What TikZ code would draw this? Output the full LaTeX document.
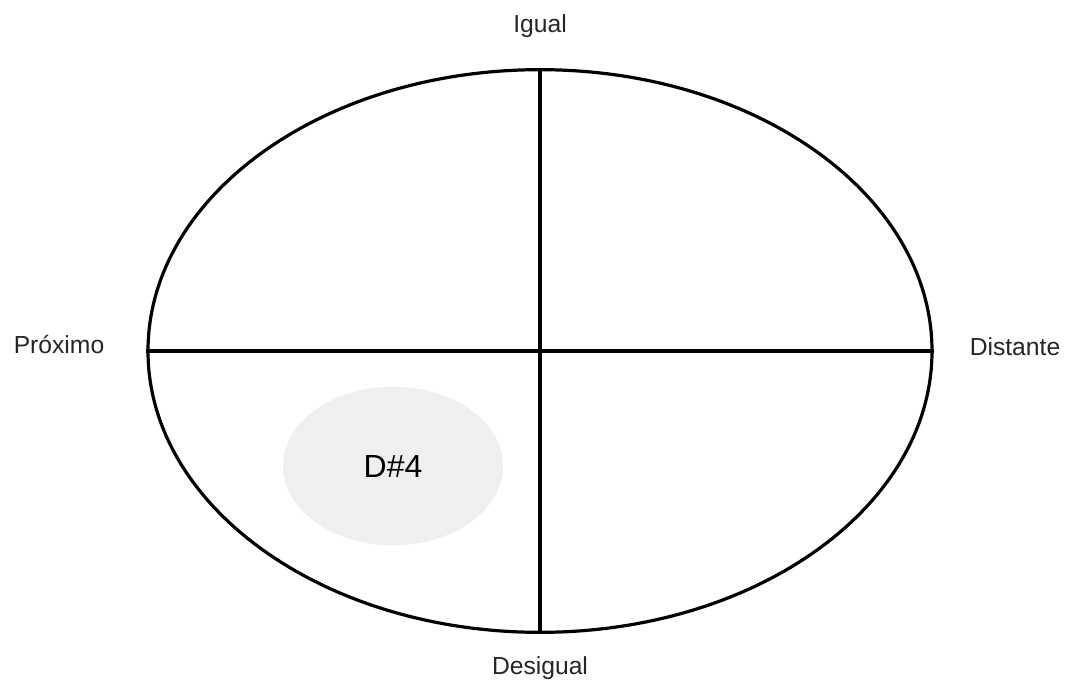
\documentclass[tikz,border=0pt]{standalone}
\usepackage{fontspec}
\setmainfont{Liberation Sans}
\usetikzlibrary{shapes.geometric}
\definecolor{blobgray}{RGB}{239,239,239}
\tikzset{
  label/.style={font=\fontsize{18.5}{22}\selectfont, text=black!85, inner sep=0pt},
  outer/.style={draw=black, line width=2.4pt, ellipse, minimum width=588pt, minimum height=422pt, inner sep=0pt},
  axis/.style={draw=black, line width=2.4pt},
  blob/.style={ellipse, fill=blobgray, minimum width=165pt, minimum height=119pt, inner sep=0pt, font=\fontsize{24}{28}\selectfont}
}
\begin{document}
\begin{tikzpicture}[x=0.75pt, y=-0.75pt]
\useasboundingbox (0,0) rectangle (1065,686);
\node[outer] (E) at (540,351) {};
\draw[axis] (E.north) -- (E.south);
\draw[axis] (E.west) -- (E.east);
\node[blob] (D) at (393,466) {D\#4};
\node[label] (top) at (540,26) {Igual};
\node[label] (left) at (59,345) {Próximo};
\node[label] (right) at (1015,347) {Distante};
\node[label] (bot) at (540,668) {Desigual};
\end{tikzpicture}
\end{document}
